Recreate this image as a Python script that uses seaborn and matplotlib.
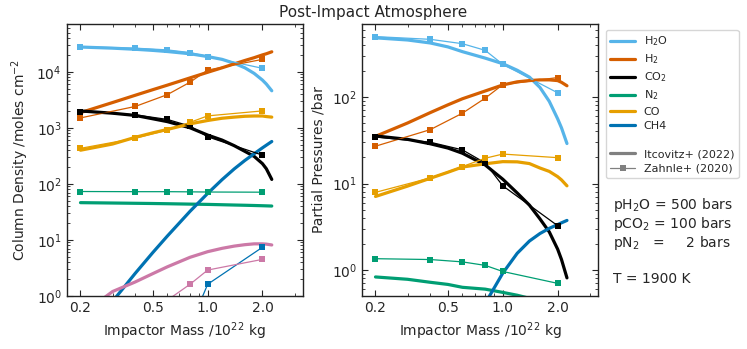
import numpy as np
import pandas as pd
import seaborn as sns
import matplotlib
matplotlib.use("Agg")
import matplotlib.pyplot as plt
from matplotlib.lines import Line2D
from matplotlib.ticker import FixedLocator, FixedFormatter, NullFormatter

# -- * impactor masses (10^22 kg)
mass_model = [0.2, 0.3, 0.4, 0.5, 0.6, 0.8, 1.0, 1.2, 1.4, 1.6, 1.8, 2.0, 2.1, 2.25]
mass_zahnle = [0.2, 0.4, 0.6, 0.8, 1.0, 2.0]

# -- * Itcovitz+ (2022), column density /moles cm^-2
col_h2o = [27540, 26300, 25120, 23990, 22910, 20890, 18620, 16600, 14130, 11750, 9330, 7080, 6030, 4570]
col_h2 = [1862, 2818, 3802, 4786, 5754, 7762, 9772, 11750, 13800, 15850, 17780, 19950, 20890, 22650]
col_co2 = [1995, 1820, 1660, 1445, 1288, 1000, 741, 603, 479, 380, 309, 229, 186, 120]
col_n2 = [46.2, 45.5, 45.0, 44.6, 44.2, 43.5, 43.0, 42.4, 41.9, 41.5, 41.1, 40.7, 40.5, 40.2]
col_co = [398, 513, 676, 813, 933, 1175, 1349, 1479, 1549, 1603, 1622, 1622, 1585, 1549]
col_ch4 = [0.15, 0.80, 2.54, 5.98, 11.7, 32.4, 67.6, 119, 185, 261, 344, 439, 489, 569]
col_nh3 = [0.45, 1.20, 1.78, 2.51, 3.31, 4.90, 6.17, 7.08, 7.76, 8.22, 8.51, 8.51, 8.41, 8.13]

# -- * Zahnle+ (2020), column density
zcol_h2o = [27800, 26300, 24500, 21900, 18600, 11500]
zcol_h2 = [1500, 2400, 3900, 6500, 10700, 16600]
zcol_co2 = [1950, 1700, 1410, 1070, 690, 325]
zcol_n2 = [73, 72.5, 72.5, 72, 71.5, 71]
zcol_co = [430, 650, 910, 1250, 1630, 2000]
zmass_ch4 = [0.8, 1.0, 2.0]
zcol_ch4 = [0.29, 1.62, 7.4]
zmass_nh3 = [0.6, 0.8, 1.0, 2.0]
zcol_nh3 = [0.84, 1.62, 2.9, 4.5]

# -- * Itcovitz+ (2022), partial pressures /bar
pp_h2o = [484, 457, 422, 380, 335, 282, 243, 204, 170, 129, 89, 56, 44, 29]
pp_h2 = [35.1, 50.1, 66.1, 81.3, 95.5, 117.5, 138, 150, 155, 158, 158, 155, 148, 135]
pp_co2 = [35.5, 32.4, 28.8, 25.7, 22.4, 16.4, 11.2, 7.76, 5.62, 3.89, 2.75, 1.74, 1.32, 0.81]
pp_n2 = [0.83, 0.78, 0.72, 0.68, 0.63, 0.60, 0.55, 0.51, 0.47, 0.42, 0.37, 0.32, 0.29, 0.25]
pp_co = [7.08, 9.33, 11.5, 13.5, 15.5, 16.9, 17.9, 17.8, 17.0, 15.1, 13.8, 12.0, 11.0, 9.4]
pp_ch4 = [0.0004, 0.003, 0.012, 0.04, 0.13, 0.41, 0.92, 1.56, 2.16, 2.64, 3.03, 3.35, 3.51, 3.74]

# -- * Zahnle+ (2020), partial pressures
zpp_h2o = [500, 465, 414, 347, 239, 112]
zpp_h2 = [27, 42, 65, 97, 139, 168]
zpp_co2 = [34.5, 30, 24.5, 17.3, 9.4, 3.25]
zpp_n2 = [1.35, 1.32, 1.24, 1.13, 0.96, 0.70]
zpp_co = [7.9, 11.6, 15.7, 19.6, 21.9, 19.9]

species = ["H2O", "H2", "CO2", "N2", "CO", "CH4"]
labels = ["H$_2$O", "H$_2$", "CO$_2$", "N$_2$", "CO", "CH4"]
palette = {
    "H2O": "#56B4E9",
    "H2": "#D55E00",
    "CO2": "#000000",
    "N2": "#009E73",
    "CO": "#E69F00",
    "CH4": "#0072B2",
    "NH3": "#CC79A7",
}

sns.set_style("ticks")
plt.rcParams.update({
    "font.family": ["DejaVu Sans"],
    "xtick.direction": "in",
    "ytick.direction": "in",
    "xtick.top": True,
    "ytick.right": True,
    "axes.linewidth": 1.0,
    "axes.edgecolor": "#222222",
})

fig = plt.figure(figsize=(7.47, 3.49), dpi=100)
ax1 = fig.add_axes([0.0893, 0.1519, 0.3160, 0.7794])
ax2 = fig.add_axes([0.4842, 0.1519, 0.3163, 0.7794])

left_model = {"H2O": col_h2o, "H2": col_h2, "CO2": col_co2, "N2": col_n2,
              "CO": col_co, "CH4": col_ch4, "NH3": col_nh3}
left_zahnle = {"H2O": (mass_zahnle, zcol_h2o), "H2": (mass_zahnle, zcol_h2),
               "CO2": (mass_zahnle, zcol_co2), "N2": (mass_zahnle, zcol_n2),
               "CO": (mass_zahnle, zcol_co), "CH4": (zmass_ch4, zcol_ch4),
               "NH3": (zmass_nh3, zcol_nh3)}
right_model = {"H2O": pp_h2o, "H2": pp_h2, "CO2": pp_co2, "N2": pp_n2,
               "CO": pp_co, "CH4": pp_ch4}
right_zahnle = {"H2O": (mass_zahnle, zpp_h2o), "H2": (mass_zahnle, zpp_h2),
                "CO2": (mass_zahnle, zpp_co2), "N2": (mass_zahnle, zpp_n2),
                "CO": (mass_zahnle, zpp_co)}


def draw_panel(ax, model, zahnle):
    df = pd.DataFrame([
        {"mass": m, "value": v, "species": sp}
        for sp, vals in model.items() for m, v in zip(mass_model, vals)
    ])
    sns.lineplot(data=df, x="mass", y="value", hue="species", palette=palette,
                 estimator=None, linewidth=2.3, legend=False, ax=ax)
    for sp, (mx, vy) in zahnle.items():
        c = palette[sp]
        sns.lineplot(x=mx, y=vy, color=c, marker="s", markersize=4.5,
                     markeredgewidth=0, linewidth=0.9, estimator=None, ax=ax)
    ax.set_xscale("log")
    ax.set_yscale("log")
    ax.set_xlim(0.168, 3.33)
    ax.xaxis.set_major_locator(FixedLocator([0.2, 0.5, 1.0, 2.0]))
    ax.xaxis.set_major_formatter(FixedFormatter(["0.2", "0.5", "1.0", "2.0"]))
    ax.xaxis.set_minor_formatter(NullFormatter())
    ax.set_xlabel("Impactor Mass /10$^{22}$ kg", fontsize=10)
    ax.tick_params(labelsize=10)
    ax.tick_params(which="both", top=True, right=True, direction="in")
    ax.tick_params(which="major", length=4)
    ax.tick_params(which="minor", length=2)


draw_panel(ax1, left_model, left_zahnle)
ax1.set_ylim(1, 7.1e4)
ax1.set_ylabel("Column Density /moles cm$^{-2}$", fontsize=10)

draw_panel(ax2, right_model, right_zahnle)
ax2.set_ylim(0.5, 700)
ax2.set_ylabel("Partial Pressures /bar", fontsize=10)

fig.suptitle("Post-Impact Atmosphere", fontsize=11, y=0.985)

handles = [Line2D([], [], color=palette[sp], lw=2.3, label=lab)
           for sp, lab in zip(species, labels)]
handles.append(Line2D([], [], color="none", label=" "))
handles.append(Line2D([], [], color="grey", lw=2.3, label="Itcovitz+ (2022)"))
handles.append(Line2D([], [], color="grey", lw=0.9, marker="s", markersize=4.5,
                      markeredgewidth=0, label="Zahnle+ (2020)"))
fig.legend(handles=handles, loc="upper left", bbox_to_anchor=(0.8112, 0.914),
           borderaxespad=0, fontsize=8, handlelength=2.2, labelspacing=0.38)

tx = 0.8206
fig.text(tx, 1 - 205 / 349, "pH$_2$O = 500 bars", fontsize=10, va="center")
fig.text(tx, 1 - 224 / 349, "pCO$_2$ = 100 bars", fontsize=10, va="center")
fig.text(tx, 1 - 243 / 349, "pN$_2$   =     2 bars", fontsize=10, va="center")
fig.text(tx, 1 - 279 / 349, "T = 1900 K", fontsize=10, va="center")

fig.savefig("out.png", dpi=100)
